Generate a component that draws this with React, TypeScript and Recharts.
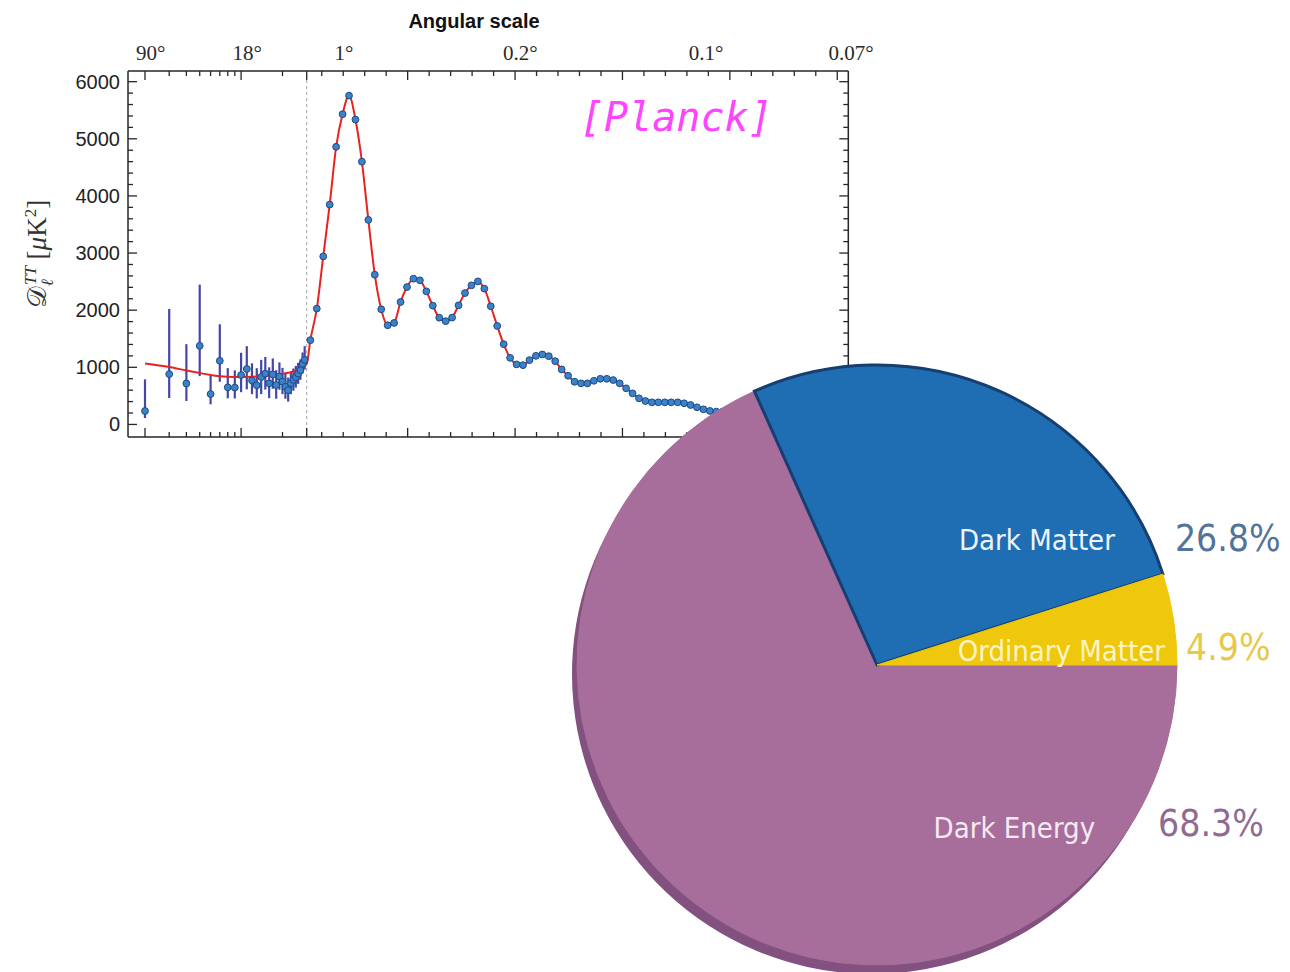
import React from "react"
import {
  ComposedChart,
  Line,
  Scatter,
  ErrorBar,
  XAxis,
  YAxis,
  ReferenceLine,
  PieChart,
  Pie,
  Cell,
} from "recharts"

// low multipoles, one point per ell
const lowEll = [2, 3, 4, 5, 6, 7, 8, 9, 10, 11, 12, 13, 14, 15, 16, 17, 18, 19, 20, 21, 22, 23, 24, 25, 26, 27, 28, 29]
const lowDl = [235, 881, 718, 1376, 532, 1114, 649, 645, 864, 970, 770, 685, 830, 890, 720, 875, 690, 836, 750, 660, 600, 720, 780, 825, 890, 950, 1060, 1130]
const lowErrDown = [122, 419, 308, 530, 180, 367, 192, 190, 300, 356, 240, 230, 300, 280, 260, 250, 240, 230, 220, 210, 200, 190, 190, 180, 180, 170, 170, 170]
const lowErrUp = [554, 1140, 687, 1071, 332, 640, 337, 302, 390, 400, 300, 300, 300, 290, 280, 280, 260, 250, 240, 230, 220, 210, 200, 200, 190, 190, 200, 240]

// binned high multipoles
const binEll = [
  47, 77, 107, 137, 167, 197, 227, 257, 287, 317, 347, 377, 407, 437, 467, 497, 527, 557, 587,
  617, 647, 677, 707, 737, 767, 797, 827, 857, 887, 917, 947, 977, 1007, 1037, 1067, 1097, 1127, 1157, 1187, 1217,
  1247, 1277, 1307, 1337, 1367, 1397, 1427, 1457, 1487, 1517, 1547, 1577, 1607, 1637, 1667, 1697, 1727, 1757, 1787,
  1817, 1847, 1877, 1907, 1937, 1967, 1997, 2027, 2057, 2087, 2117, 2147, 2177, 2207, 2237, 2267, 2297, 2327,
  2357, 2387, 2417, 2447, 2477,
]
const binDl = [
  1475, 2028, 2941, 3848, 4860, 5431, 5756, 5337, 4599, 3581, 2621, 2016, 1736, 1777, 2143, 2405, 2551, 2522, 2330,
  2080, 1868, 1808, 1871, 2085, 2300, 2435, 2504, 2377, 2068, 1724, 1405, 1166, 1051, 1038, 1126, 1201, 1225, 1195, 1108, 963,
  852, 747, 719, 719, 764, 799, 799, 777, 719, 632, 544, 457, 410, 387, 387, 387, 387, 387, 370,
  340, 300, 265, 236, 225, 225, 210, 200, 190, 180, 170, 160, 150, 140, 130, 120, 112, 105,
  98, 92, 86, 80, 75,
]

// best-fit curve below ell = 30 (above it the curve follows the bins)
const fitEll = [2, 3, 4, 5, 6, 7, 8, 10, 12, 15, 18, 21, 24, 27, 30]
const fitDl = [1068, 1005, 945, 900, 865, 845, 835, 830, 835, 850, 870, 895, 925, 975, 1060]

const ellTicks = [2, 3, 4, 5, 6, 7, 8, 9, 10, 20, 30, 100, 200, 300, 400, 500, 600, 700, 800, 900, 1000, 1100, 1200, 1300, 1400, 1500, 1600, 1700, 1800, 1900, 2000, 2100, 2200, 2300, 2400, 2500]
const ellMajor = [2, 10, 30, 500, 1000, 1500, 2000, 2500]
const angleLabels = ["90°", "18°", "1°", "0.2°", "0.1°", "0.07°"]
const angleEll = [2.2, 11.1, 204, 1025, 1889, 2564]

const components = ["Dark Energy", "Dark Matter", "Ordinary Matter"]
const shares = [68.3, 26.8, 4.9]

// hybrid axis: log below ell=30, linear above
const LOG_DECADE = 137.5
const LIN_SLOPE = 0.2148
const SPLIT = 178.7
const X_MAX = 720.3
const ellToAxis = (l: number) =>
  l <= 30 ? SPLIT + LOG_DECADE * Math.log10(l / 30) : SPLIT + LIN_SLOPE * (l - 30)

const AXIS = "#262626"
const k = (v: number) => v.toFixed(3)
const majorX = new Set(ellMajor.map((l) => k(ellToAxis(l))))
const angleAt = new Map(angleEll.map((l, i) => [k(ellToAxis(l)), angleLabels[i]]))
const dlTicks = Array.from({ length: 31 }, (_, i) => i * 200)

const lowRows = lowEll.map((l, i) => ({ x: ellToAxis(l), y: lowDl[i], err: [lowErrDown[i], lowErrUp[i]] }))
const binRows = binEll.map((l, i) => ({ x: ellToAxis(l), y: binDl[i] }))
const fitRows = [...fitEll.map((l, i) => ({ x: ellToAxis(l), y: fitDl[i] })), ...binRows]
const topTicks = [...ellTicks.map(ellToAxis), ...angleEll.map(ellToAxis)]
const pieRows = components.map((name, i) => ({ name, value: shares[i] }))

const faceColors = ["#a86e9b", "#1f6db3", "#efc70c"]
const rimColors = ["#83517f", "#174f87", "#a58a1c"]
const nameColors = ["#f6e9f3", "#eef4ff", "#fff4c4"]
const pctColors = ["#8f6b94", "#53739a", "#e8c84a"]
// label anchors as fractions of the radius
const nameAt = [[0.727, 0.543], [0.793, -0.417], [0.96, -0.047]]
const pctAt = [[0.937, 0.527], [0.993, -0.423], [1.03, -0.06]]
const condensed = "'DejaVu Sans Condensed', 'DejaVu Sans', sans-serif"

function BottomTick(p: any) {
  const len = majorX.has(k(p.payload.value)) ? 9 : 5
  return <line x1={p.x} x2={p.x} y1={p.y} y2={p.y - len} stroke={AXIS} strokeWidth={1.3} />
}

function TopTick(p: any) {
  const label = angleAt.get(k(p.payload.value))
  if (label) {
    return (
      <text x={p.x} y={p.y - 11} textAnchor="middle" fontFamily="'Liberation Serif', serif" fontSize={21} fill="#2a2a2a">
        {label}
      </text>
    )
  }
  const len = majorX.has(k(p.payload.value)) ? 9 : 5
  return <line x1={p.x} x2={p.x} y1={p.y} y2={p.y + len} stroke={AXIS} strokeWidth={1.3} />
}

function LeftTick(p: any) {
  const major = p.payload.value % 1000 === 0
  return (
    <g>
      <line x1={p.x} x2={p.x + (major ? 9 : 5)} y1={p.y} y2={p.y} stroke={AXIS} strokeWidth={1.3} />
      {major && (
        <text x={p.x - 8} y={p.y} textAnchor="end" dominantBaseline="central" fontFamily="'Liberation Sans', Arial, sans-serif" fontSize={20} fill="#222">
          {p.payload.value}
        </text>
      )}
    </g>
  )
}

function RightTick(p: any) {
  const major = p.payload.value % 1000 === 0
  return <line x1={p.x} x2={p.x - (major ? 9 : 5)} y1={p.y} y2={p.y} stroke={AXIS} strokeWidth={1.3} />
}

const Dot = (p: any) => <circle cx={p.cx} cy={p.cy} r={3.4} fill="#3c82c8" stroke="#1b4a85" strokeWidth={1} />

function renderPieLabel(p: any) {
  const i = components.indexOf(p.name)
  if (i < 0) return null
  const { cx, cy, outerRadius: r } = p
  return (
    <g>
      <text x={cx + nameAt[i][0] * r} y={cy + nameAt[i][1] * r} textAnchor="end" dominantBaseline="central" fontFamily={condensed} fontSize={29} fill={nameColors[i]}>
        {components[i]}
      </text>
      <text x={cx + pctAt[i][0] * r} y={cy + pctAt[i][1] * r} textAnchor="start" dominantBaseline="central" fontFamily={condensed} fontSize={37} fill={pctColors[i]}>
        {shares[i]}%
      </text>
    </g>
  )
}

export default function App() {
  return (
    <div style={{ position: "absolute", left: 0, top: 0, width: 1290, height: 972, background: "#fff", overflow: "hidden" }}>
      <div style={{ position: "absolute", left: 0, top: 0 }}>
        <ComposedChart width={900} height={460} margin={{ top: 0, right: 0, bottom: 0, left: 0 }}>
          <XAxis
            xAxisId="bottom"
            dataKey="x"
            type="number"
            domain={[0, X_MAX]}
            allowDataOverflow
            ticks={ellTicks.map(ellToAxis)}
            interval={0}
            height={23}
            tickSize={0}
            tickMargin={0}
            tickLine={false}
            axisLine={{ stroke: AXIS, strokeWidth: 1.5 }}
            tick={<BottomTick />}
          />
          <XAxis
            xAxisId="top"
            orientation="top"
            dataKey="x"
            type="number"
            domain={[0, X_MAX]}
            allowDataOverflow
            ticks={topTicks}
            interval={0}
            height={71}
            tickSize={0}
            tickMargin={0}
            tickLine={false}
            axisLine={{ stroke: AXIS, strokeWidth: 1.5 }}
            tick={<TopTick />}
          />
          <YAxis
            yAxisId="left"
            type="number"
            domain={[-220, 6187]}
            allowDataOverflow
            ticks={dlTicks}
            interval={0}
            width={128}
            tickSize={0}
            tickMargin={0}
            tickLine={false}
            axisLine={{ stroke: AXIS, strokeWidth: 1.5 }}
            tick={<LeftTick />}
          />
          <YAxis
            yAxisId="right"
            orientation="right"
            type="number"
            domain={[-220, 6187]}
            allowDataOverflow
            ticks={dlTicks}
            interval={0}
            width={51.7}
            tickSize={0}
            tickMargin={0}
            tickLine={false}
            axisLine={{ stroke: AXIS, strokeWidth: 1.5 }}
            tick={<RightTick />}
          />
          <ReferenceLine xAxisId="bottom" yAxisId="left" x={ellToAxis(30)} stroke="#a0a0a0" strokeDasharray="3 3" />
          <Scatter xAxisId="bottom" yAxisId="left" data={lowRows} dataKey="y" shape={Dot} isAnimationActive={false}>
            <ErrorBar dataKey="err" direction="y" width={0} stroke="#4347a8" strokeWidth={2.2} />
          </Scatter>
          <Line
            xAxisId="bottom"
            yAxisId="left"
            data={fitRows}
            dataKey="y"
            type="monotone"
            stroke="#e8231f"
            strokeWidth={2}
            dot={false}
            isAnimationActive={false}
          />
          <Scatter xAxisId="bottom" yAxisId="left" data={binRows} dataKey="y" shape={Dot} isAnimationActive={false} />
        </ComposedChart>
      </div>

      <svg width={900} height={460} style={{ position: "absolute", left: 0, top: 0 }}>
        <text x={474} y={28} textAnchor="middle" fontFamily="'Liberation Sans', Arial, sans-serif" fontWeight="bold" fontSize={20} fill="#111">
          Angular scale
        </text>
        <text transform="translate(46 254) rotate(-90)" textAnchor="middle" fontFamily="'Liberation Serif', serif" fontSize={27} fill="#333">
          𝒟
          <tspan fontSize={17} fontStyle="italic" dy={7}>ℓ</tspan>
          <tspan fontSize={17} fontStyle="italic" dx={-6} dy={-17}>TT</tspan>
          <tspan dy={10}> [</tspan>
          <tspan fontStyle="italic">μ</tspan>
          <tspan>K</tspan>
          <tspan fontSize={17} dy={-10}>2</tspan>
          <tspan dy={10}>]</tspan>
        </text>
        <text x={580} y={131} fontFamily="'DejaVu Sans Mono', monospace" fontStyle="italic" fontSize={40} fill="#ff44ff">
          [Planck]
        </text>
      </svg>

      <div style={{ position: "absolute", left: 0, top: 0 }}>
        <PieChart width={1290} height={972} margin={{ top: 0, right: 0, bottom: 0, left: 0 }}>
          <Pie
            data={pieRows}
            dataKey="value"
            nameKey="name"
            cx={872}
            cy={674}
            outerRadius={300}
            startAngle={0}
            endAngle={-360}
            isAnimationActive={false}
            stroke="none"
          >
            {pieRows.map((_, i) => (
              <Cell key={i} fill={rimColors[i]} stroke="none" />
            ))}
          </Pie>
          <Pie
            data={pieRows}
            dataKey="value"
            nameKey="name"
            cx={877}
            cy={665}
            outerRadius={300}
            startAngle={0}
            endAngle={-360}
            isAnimationActive={false}
            label={renderPieLabel}
            labelLine={false}
          >
            {pieRows.map((_, i) => (
              <Cell key={i} fill={faceColors[i]} stroke={i === 1 ? "#163f70" : faceColors[i]} strokeWidth={i === 1 ? 3 : 1} />
            ))}
          </Pie>
        </PieChart>
      </div>
    </div>
  )
}
